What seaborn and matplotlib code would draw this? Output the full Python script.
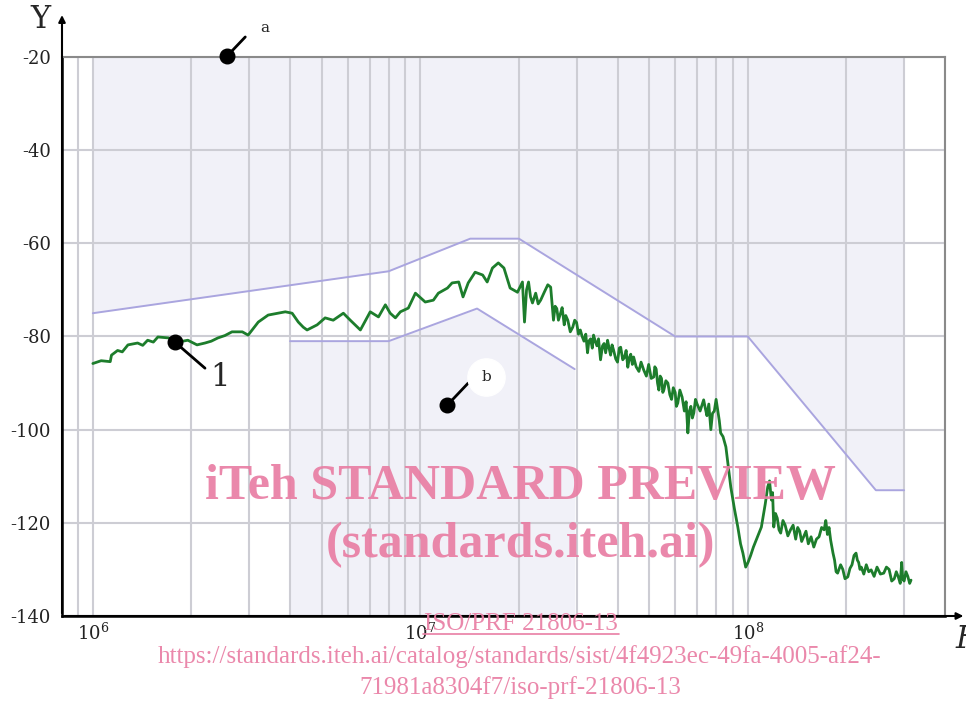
import matplotlib
matplotlib.use("Agg")
import matplotlib.pyplot as plt
import seaborn as sns
import pandas as pd

freq_lo = [1.00e6, 1.06e6, 1.13e6, 1.14e6, 1.19e6, 1.23e6, 1.28e6, 1.37e6, 1.42e6, 1.47e6,
           1.53e6, 1.58e6, 1.70e6, 1.82e6, 1.95e6, 2.08e6, 2.20e6, 2.30e6, 2.41e6, 2.53e6,
           2.66e6, 2.86e6, 2.98e6, 3.20e6, 3.43e6, 3.68e6, 3.87e6, 4.06e6, 4.24e6, 4.39e6,
           4.51e6, 4.84e6, 5.12e6, 5.42e6, 5.82e6, 6.11e6, 6.56e6, 7.03e6, 7.45e6, 7.82e6,
           8.09e6, 8.39e6, 8.69e6, 9.19e6, 9.66e6, 1.035e7, 1.096e7, 1.135e7, 1.21e7, 1.25e7,
           1.31e7, 1.35e7, 1.40e7, 1.47e7, 1.55e7, 1.60e7, 1.66e7, 1.73e7, 1.80e7, 1.88e7,
           1.98e7, 2.05e7, 2.08e7, 2.11e7, 2.14e7, 2.17e7, 2.20e7, 2.25e7, 2.29e7, 2.33e7,
           2.39e7, 2.45e7, 2.50e7]
level_lo = [-85.8, -85.2, -85.4, -84.0, -83.0, -83.3, -81.8, -81.4, -81.9, -80.8,
            -81.2, -80.1, -80.3, -81.2, -80.8, -81.8, -81.4, -81.0, -80.3, -79.8,
            -79.0, -79.0, -79.7, -76.9, -75.4, -75.0, -74.7, -75.0, -76.9, -78.0,
            -78.6, -77.5, -76.0, -76.5, -75.0, -76.5, -78.6, -74.7, -75.8, -73.2,
            -75.0, -76.0, -74.7, -73.9, -70.7, -72.6, -72.2, -70.7, -69.6, -68.5,
            -68.3, -71.5, -68.5, -66.2, -66.8, -68.3, -65.3, -64.2, -65.3, -69.6,
            -70.5, -68.3, -76.9, -70.0, -68.3, -71.5, -72.8, -70.7, -73.0, -72.2,
            -70.5, -68.9, -69.4]

# high-frequency part, noisy, (frequency, level) pairs
hi_pts = [(2.55e7, -76.5), (2.58e7, -73.5), (2.61e7, -74.0), (2.64e7, -76.5), (2.68e7, -75.0),
          (2.71e7, -73.8), (2.75e7, -77.5), (2.78e7, -75.5), (2.82e7, -76.5), (2.87e7, -79.0),
          (2.92e7, -78.0), (2.96e7, -76.5), (3.00e7, -77.0), (3.04e7, -79.5), (3.08e7, -78.6),
          (3.12e7, -80.0), (3.16e7, -81.0), (3.20e7, -79.5), (3.24e7, -83.5), (3.27e7, -81.0),
          (3.31e7, -80.5), (3.35e7, -82.5), (3.38e7, -79.7), (3.42e7, -81.0), (3.46e7, -82.0),
          (3.50e7, -80.5), (3.55e7, -85.0), (3.60e7, -82.0), (3.64e7, -81.5), (3.68e7, -83.5),
          (3.73e7, -80.8), (3.77e7, -82.5), (3.81e7, -84.0), (3.85e7, -81.8), (3.89e7, -82.9),
          (3.95e7, -84.8), (4.00e7, -85.5), (4.05e7, -82.5), (4.09e7, -82.3), (4.15e7, -85.0),
          (4.20e7, -84.5), (4.25e7, -83.0), (4.30e7, -86.6), (4.35e7, -84.5), (4.39e7, -83.8),
          (4.44e7, -86.0), (4.48e7, -84.4), (4.56e7, -86.5), (4.65e7, -87.5), (4.72e7, -85.5),
          (4.81e7, -87.2), (4.90e7, -88.5), (4.98e7, -86.0), (5.07e7, -89.0), (5.16e7, -88.7),
          (5.20e7, -86.5), (5.25e7, -87.0), (5.30e7, -90.0), (5.35e7, -91.5), (5.40e7, -88.5),
          (5.45e7, -89.0), (5.50e7, -92.0), (5.54e7, -91.5), (5.62e7, -89.5), (5.70e7, -90.0),
          (5.78e7, -92.5), (5.85e7, -93.5), (5.92e7, -91.0), (6.00e7, -92.0), (6.05e7, -95.0),
          (6.11e7, -94.3), (6.20e7, -91.5), (6.30e7, -93.0), (6.40e7, -96.0), (6.48e7, -94.0),
          (6.56e7, -100.7), (6.63e7, -96.0), (6.70e7, -95.0), (6.77e7, -97.5), (6.84e7, -96.4),
          (6.92e7, -93.5), (7.00e7, -94.5), (7.15e7, -96.0), (7.33e7, -93.6), (7.42e7, -95.5),
          (7.50e7, -97.0), (7.60e7, -94.5), (7.71e7, -100.0), (7.80e7, -96.5), (7.90e7, -96.0),
          (8.00e7, -93.5), (8.09e7, -95.8), (8.18e7, -98.0), (8.26e7, -100.7), (8.40e7, -101.5),
          (8.57e7, -103.7), (8.87e7, -112.3), (9.10e7, -117.0), (9.32e7, -120.9), (9.50e7, -124.5),
          (9.66e7, -126.5), (9.85e7, -129.5), (1.00e8, -128.6), (1.02e8, -127.0), (1.04e8, -125.2),
          (1.07e8, -123.0), (1.10e8, -120.9), (1.13e8, -116.0), (1.15e8, -112.3), (1.165e8, -111.0),
          (1.18e8, -115.1), (1.19e8, -113.5), (1.20e8, -120.9), (1.215e8, -118.0), (1.23e8, -119.0),
          (1.245e8, -121.5), (1.26e8, -122.2), (1.28e8, -119.5), (1.30e8, -120.5), (1.325e8, -122.8),
          (1.35e8, -121.5), (1.375e8, -120.5), (1.40e8, -123.5), (1.42e8, -121.0), (1.44e8, -121.8),
          (1.46e8, -124.0), (1.48e8, -123.0), (1.505e8, -121.8), (1.53e8, -124.5), (1.56e8, -123.0),
          (1.59e8, -125.2), (1.62e8, -123.5), (1.65e8, -123.0), (1.68e8, -121.0), (1.71e8, -121.5),
          (1.73e8, -119.5), (1.75e8, -122.5), (1.77e8, -121.0), (1.79e8, -123.7), (1.82e8, -126.5),
          (1.84e8, -128.0), (1.86e8, -130.5), (1.88e8, -130.8), (1.92e8, -129.0), (1.95e8, -130.0),
          (1.98e8, -132.0), (2.02e8, -131.6), (2.05e8, -129.8), (2.08e8, -129.0), (2.11e8, -127.0),
          (2.14e8, -126.5), (2.16e8, -128.0), (2.18e8, -128.5), (2.20e8, -130.0), (2.22e8, -129.5),
          (2.26e8, -131.0), (2.30e8, -129.0), (2.34e8, -130.5), (2.38e8, -130.1), (2.43e8, -131.5),
          (2.48e8, -129.5), (2.54e8, -131.0), (2.60e8, -130.8), (2.65e8, -129.5), (2.70e8, -130.0),
          (2.75e8, -132.5), (2.80e8, -132.0), (2.84e8, -130.5), (2.88e8, -131.6), (2.92e8, -133.0),
          (2.95e8, -128.5), (2.97e8, -132.0), (3.00e8, -132.5), (3.04e8, -130.5), (3.08e8, -131.5),
          (3.12e8, -133.0), (3.15e8, -132.3)]

# limit lines
upper_f = [1.0e6, 8.0e6, 1.42e7, 2.0e7, 6.0e7, 1.0e8, 2.46e8, 3.0e8]
upper_v = [-75, -66, -59, -59, -80, -80, -113, -113]
lower_f = [4.0e6, 8.0e6, 1.49e7, 2.96e7]
lower_v = [-81, -81, -74, -87]

y_ticks = [-140, -120, -100, -80, -60, -40, -20]
x_ticks = [1e6, 1e7, 1e8]
x_labels = ["$10^{6}$", "$10^{7}$", "$10^{8}$"]

sns.set_style("white")
plt.rcParams["font.family"] = ["DejaVu Serif"]
plt.rcParams["mathtext.fontset"] = "dejavuserif"

fig = plt.figure(figsize=(9.66, 7.04), dpi=100)
ax = fig.add_axes([62 / 966, 88 / 704, 883 / 966, 559 / 704])

shade = "#f1f1f8"
grid_c = "#cdcdd4"
purple = "#aaa5df"
green = "#1d7d2c"

ax.fill_between(upper_f, upper_v, -20, color=shade, lw=0, zorder=0)
ax.fill_between(lower_f, lower_v, -140, color=shade, lw=0, zorder=0)

ax.set_xscale("log")
ax.set_xlim(8.05e5, 4.0e8)
ax.set_ylim(-140, -20)
ax.set_yticks(y_ticks)
ax.set_yticklabels([str(v) for v in y_ticks])
ax.set_xticks(x_ticks)
ax.set_xticklabels(x_labels)
ax.grid(True, which="both", axis="x", color=grid_c, lw=1.5, zorder=1)
ax.grid(True, which="major", axis="y", color=grid_c, lw=1.5, zorder=1)
ax.set_axisbelow(True)
ax.tick_params(axis="both", which="both", length=0, labelsize=13, colors="#222222")
ax.tick_params(axis="y", pad=8)
ax.tick_params(axis="x", pad=5)

freq = freq_lo + [p[0] for p in hi_pts]
level = level_lo + [p[1] for p in hi_pts]
curve = pd.DataFrame({"f": freq, "v": level})
sns.lineplot(data=curve, x="f", y="v", color=green, lw=2.0, ax=ax, zorder=4)
sns.lineplot(x=upper_f, y=upper_v, color=purple, lw=1.4, ax=ax, zorder=3)
sns.lineplot(x=lower_f, y=lower_v, color=purple, lw=1.4, ax=ax, zorder=3)
ax.set_xlabel("")
ax.set_ylabel("")

for s in ["top", "right"]:
    ax.spines[s].set_color("#8a8a8a")
    ax.spines[s].set_linewidth(1.5)
for s in ["left", "bottom"]:
    ax.spines[s].set_color("black")
    ax.spines[s].set_linewidth(1.8)

# axis arrows
ax.annotate("", xy=(0, 1.08), xycoords="axes fraction", xytext=(0, 0),
            arrowprops=dict(arrowstyle="-|>", color="black", lw=1.5), annotation_clip=False)
ax.annotate("", xy=(1.024, 0), xycoords="axes fraction", xytext=(0, 0),
            arrowprops=dict(arrowstyle="-|>", color="black", lw=1.5), annotation_clip=False)
fig.text(40 / 966, 1 - 20 / 704, "Y", fontsize=22, ha="center", va="center")
fig.text(955 / 966, 1 - 640 / 704, "F", fontsize=22, style="italic", ha="left", va="center")

# callouts
ax.plot([2.57e6, 2.92e6], [-19.8, -15.7], color="black", lw=2, clip_on=False, zorder=6)
ax.scatter([2.57e6], [-19.8], s=110, color="black", clip_on=False, zorder=7)
ax.text(3.36e6, -13.8, "a", fontsize=11, ha="center", va="center")

ax.plot([1.78e6, 2.20e6], [-81.2, -86.8], color="black", lw=2, zorder=6)
ax.scatter([1.78e6], [-81.2], s=110, color="black", zorder=7)
ax.text(2.44e6, -88.9, "1", fontsize=22, ha="center", va="center", zorder=7)

ax.plot([1.21e7, 1.40e7], [-94.7, -90.0], color="black", lw=2, zorder=6)
ax.scatter([1.21e7], [-94.7], s=110, color="black", zorder=7)
ax.scatter([1.59e7], [-88.7], s=720, color="white", zorder=6)
ax.text(1.59e7, -88.7, "b", fontsize=11, ha="center", va="center", zorder=7)

# watermark
pink = "#e97ea4"
wm = dict(family=["Liberation Serif", "DejaVu Serif"], color=pink, ha="center", va="center",
          zorder=20, alpha=0.92)
fig.text(520 / 966, 1 - 487 / 704, "iTeh STANDARD PREVIEW", fontsize=36, weight="bold", **wm)
fig.text(521 / 966, 1 - 545 / 704, "(standards.iteh.ai)", fontsize=36, weight="bold", **wm)
fig.text(521 / 966, 1 - 624 / 704, "ISO/PRF 21806-13", fontsize=18, **wm)
fig.add_artist(plt.Line2D([423 / 966, 619 / 966], [1 - 634 / 704, 1 - 634 / 704],
                          color=pink, lw=1.2, zorder=20))
fig.text(520 / 966, 1 - 657 / 704,
         "https://standards.iteh.ai/catalog/standards/sist/4f4923ec-49fa-4005-af24-",
         fontsize=18, **wm)
fig.text(520 / 966, 1 - 688 / 704, "71981a8304f7/iso-prf-21806-13", fontsize=18, **wm)

fig.savefig("out.png", dpi=100)
